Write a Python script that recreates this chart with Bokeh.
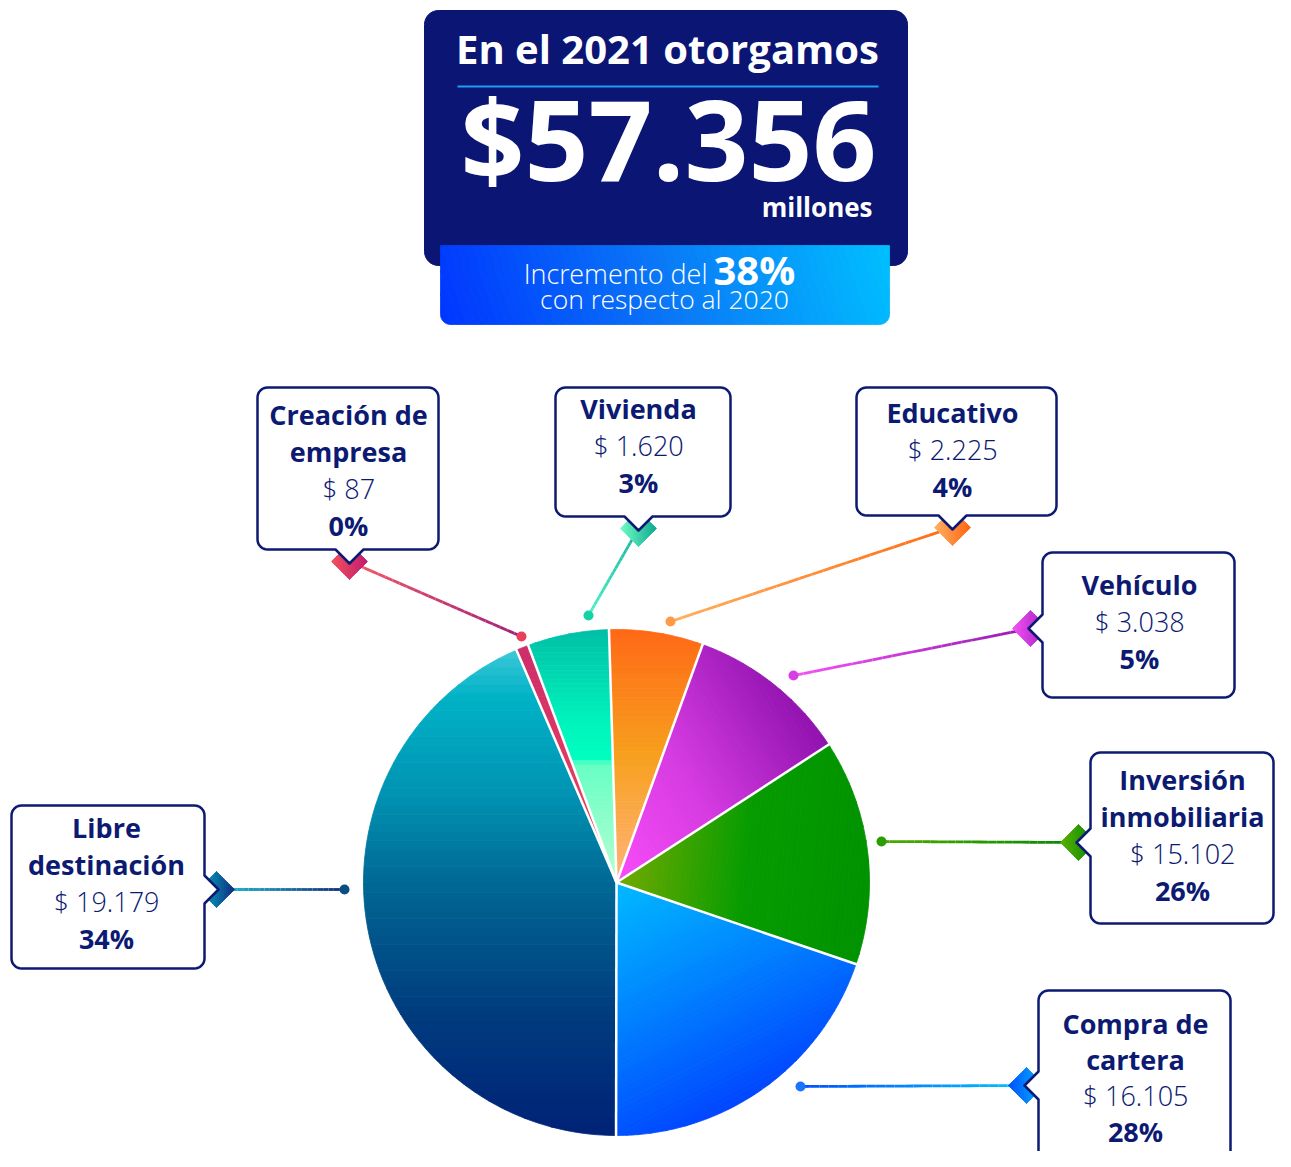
import numpy as np
from bokeh.plotting import figure
from bokeh.models import Range1d
from bokeh.embed import file_html
from bokeh.resources import INLINE
from bokeh.core.properties import value

# ---------------- data ----------------
year = "2021"
prev_year = "2020"
growth_label = "38%"
unit_label = "millones"
categories = ["Educativo", "Vehículo", "Inversión inmobiliaria", "Compra de cartera",
              "Libre destinación", "Creación de empresa", "Vivienda"]
title_lines = [["Educativo"], ["Vehículo"], ["Inversión", "inmobiliaria"],
               ["Compra de", "cartera"], ["Libre", "destinación"],
               ["Creación de", "empresa"], ["Vivienda"]]
amounts = [2225, 3038, 15102, 16105, 19179, 87, 1620]          # millones
percent_labels = ["4%", "5%", "26%", "28%", "34%", "0%", "3%"]
# share of the circle each slice occupies in the drawing (%), clockwise from top
drawn_share = [6.0, 10.3, 14.4, 19.8, 43.5, 0.8, 5.2]
start_angle_deg = -1.7

def fmt_money(v):
    return f"{v:,}".replace(",", ".")

total = sum(amounts)

# ---------------- styles / layout ----------------
NAVY = "#0c1a72"
BOX_NAVY = "#0b1574"
FONT = "Open Sans"
LIGHT = "'Open Sans Light', 'Open Sans'"
BASE_FIX = 0.45          # renderer places 'alphabetic' text lower by ~0.45 em
CX, CY, R = 616.0, 882.0, 253.0

slice_grad = [
    ((0, 1), [(0, "#ff6816"), (0.5, "#f7a01e"), (1, "#ffb47c")]),
    ((1, -0.6), [(0, "#f84cf8"), (0.45, "#d63be2"), (1, "#9012ae")]),
    ((1, 0.1), [(0, "#74aa00"), (0.5, "#069c00"), (1, "#009200")]),
    ((0.5, 1), [(0, "#00baff"), (0.5, "#0082ff"), (1, "#0046ff")]),
    ((0, 1), [(0, "#3cc8d8"), (0.1, "#00b2c6"), (0.3, "#0092b2"), (0.5, "#006492"),
              (0.75, "#003c7e"), (1, "#002277")]),
    ((0, 1), [(0, "#cc2e6c"), (1, "#f44656")]),
    ((0, 1), [(0, "#00bea6"), (0.35, "#00f2bc"), (0.52, "#00ffc0"), (0.53, "#66ffc4"),
              (1, "#b8ffd2")]),
]

callouts = [
    dict(box=(856, 387, 1056, 515), side="bottom", pos=952, dot=(670, 621),
         dia=("#ffb266", "#ff6410"), line=("#ff6a12", "#ffb060"), dotc="#ff9a48",
         tx=952, ty=424, sp=37),
    dict(box=(1042, 552, 1234, 697), side="left", pos=628, dot=(793, 675),
         dia=("#f552f5", "#a01cbe"), line=("#9418b0", "#f552f8"), dotc="#d83ee6",
         tx=1139, ty=596, sp=37),
    dict(box=(1090, 752, 1273, 923), side="left", pos=842, dot=(881, 841),
         dia=("#5cb000", "#008800"), line=("#008a00", "#4caa00"), dotc="#2a9e00",
         tx=1182, ty=791, sp=37),
    dict(box=(1038, 990, 1230, 1210), side="left", pos=1085, dot=(800, 1086),
         dia=("#0050ff", "#00b4ff"), line=("#00c4ff", "#0050ff"), dotc="#1a74ff",
         tx=1135, ty=1035, sp=36),
    dict(box=(11, 805, 204, 968), side="right", pos=889, dot=(344, 889),
         dia=("#00b4c8", "#102e80"), line=("#20c4d4", "#10287a"), dotc="#0a4c84",
         tx=106, ty=839, sp=37),
    dict(box=(257, 387, 438, 549), side="bottom", pos=349, dot=(521, 636),
         dia=("#f5505a", "#c01c70"), line=("#f55a62", "#a0207c"), dotc="#e8405a",
         tx=348, ty=426, sp=37),
    dict(box=(555, 387, 730, 516), side="bottom", pos=638, dot=(588, 615),
         dia=("#70ffc4", "#10a890"), line=("#18b09c", "#48f4c4"), dotc="#14d4a4",
         tx=638, ty=420, sp=37),
]

# ---------------- helpers ----------------
def hex2rgb(h):
    h = h.lstrip("#")
    return np.array([int(h[i:i + 2], 16) for i in (0, 2, 4)], float)

def interp(stops, t):
    for (p0, c0), (p1, c1) in zip(stops[:-1], stops[1:]):
        if t <= p1:
            u = 0.0 if p1 == p0 else (t - p0) / (p1 - p0)
            c = hex2rgb(c0) * (1 - u) + hex2rgb(c1) * u
            return "#%02x%02x%02x" % tuple(int(round(v)) for v in c)
    return stops[-1][1]

def clip_half(poly, d, t, keep_greater):
    out = []
    n = len(poly)
    for i in range(n):
        P = poly[i]
        Q = poly[(i + 1) % n]
        fp = P @ d - t
        fq = Q @ d - t
        if not keep_greater:
            fp, fq = -fp, -fq
        if fp >= 0:
            out.append(P)
        if (fp >= 0) != (fq >= 0):
            s = fp / (fp - fq)
            out.append(P + s * (Q - P))
    return np.array(out) if out else np.zeros((0, 2))

def grad_fill(p, xs, ys, d, stops, n=48):
    P = np.column_stack([xs, ys]).astype(float)
    d = np.array(d, float)
    d /= np.linalg.norm(d)
    proj = P @ d
    t0, t1 = proj.min(), proj.max()
    edges = np.linspace(t0, t1, n + 1)
    XS, YS, C = [], [], []
    for i in range(n):
        poly = clip_half(P, d, edges[i] - 0.05, True)
        if len(poly) < 3:
            continue
        poly = clip_half(poly, d, edges[i + 1] + 0.05, False)
        if len(poly) < 3:
            continue
        XS.append(list(poly[:, 0]))
        YS.append(list(poly[:, 1]))
        C.append(interp(stops, (i + 0.5) / n))
    p.patches(XS, YS, fill_color=C, line_color=C, line_width=0.8)

def grad_line(p, x0, y0, x1, y1, c0, c1, n=24, width=2.8):
    t = np.linspace(0, 1, n + 1)
    xs = [[x0 + (x1 - x0) * t[i], x0 + (x1 - x0) * t[i + 1]] for i in range(n)]
    ys = [[y0 + (y1 - y0) * t[i], y0 + (y1 - y0) * t[i + 1]] for i in range(n)]
    cols = [interp([(0, c0), (1, c1)], (i + 0.5) / n) for i in range(n)]
    p.multi_line(xs, ys, line_color=cols, line_width=width)

def rounded_box(l, t, r, b, rad, side=None, pos=None, w=14, h=14, square_top=False):
    pts = []
    def arc(cx, cy, a0, a1, rr):
        for a in np.linspace(a0, a1, 9):
            pts.append((cx + rr * np.cos(np.radians(a)), cy + rr * np.sin(np.radians(a))))
    if square_top:
        pts.append((l, t))
    else:
        arc(l + rad, t + rad, 180, 270, rad)
    if side == "top":
        pts += [(pos - w, t), (pos, t - h), (pos + w, t)]
    if square_top:
        pts.append((r, t))
    else:
        arc(r - rad, t + rad, 270, 360, rad)
    if side == "right":
        pts += [(r, pos - w), (r + h, pos), (r, pos + w)]
    arc(r - rad, b - rad, 0, 90, rad)
    if side == "bottom":
        pts += [(pos + w, b), (pos, b + h), (pos - w, b)]
    arc(l + rad, b - rad, 90, 180, rad)
    if side == "left":
        pts += [(l, pos + w), (l - h, pos), (l, pos - w)]
    xs, ys = zip(*pts)
    return list(xs), list(ys)

# ---------------- figure ----------------
W, H = 1275, 1151
p = figure(width=W, height=H, x_range=Range1d(0, W), y_range=Range1d(H, 0),
           output_backend="svg", toolbar_location=None, min_border=0,
           outline_line_color=None, background_fill_color="white",
           border_fill_color="white")
p.axis.visible = False
p.grid.visible = False

def txt(x, y, s, size, bold=False, light=False, color=NAVY, align="center"):
    p.text(x=[x], y=[y - BASE_FIX * size], text=[s], text_font=value(LIGHT if light else FONT),
           text_font_style="bold" if bold else "normal", text_font_size=f"{size}px",
           text_color=color, text_align=align, text_baseline="alphabetic")

# ---- header ----
hx, hy = rounded_box(424, 10, 907, 265, 14)
p.patch(hx, hy, fill_color=BOX_NAVY, line_color=BOX_NAVY, line_width=1)
bx, by = rounded_box(440, 245, 889, 324, 10, square_top=True)
grad_fill(p, bx, by, (1, -0.35), [(0, "#0036ff"), (0.5, "#0a78f6"), (1, "#00c0ff")], n=60)
p.line([457, 878], [86, 86], line_color="#1e9ff2", line_width=2)
txt(667, 66, f"En el {year} otorgamos", 40, bold=True, color="white")
txt(668, 187, f"${fmt_money(total)}", 112, bold=True, color="white")
txt(872, 218, unit_label, 26, bold=True, color="white", align="right")
txt(707, 285, "Incremento del", 27, light=True, color="white", align="right")
txt(713, 287, growth_label, 40, bold=True, color="white", align="left")
txt(664, 310, f"con respecto al {prev_year}", 26.5, light=True, color="white")

# ---- pie slices (from drawn_share) ----
shares = np.array(drawn_share, float)
bounds = start_angle_deg + np.concatenate([[0], np.cumsum(shares / shares.sum() * 360.0)])
for i in range(len(categories)):
    a0, a1 = bounds[i], bounds[i + 1]
    m = max(4, int((a1 - a0) / 1.0))
    th = np.radians(np.linspace(a0, a1, m))
    xs = [CX] + list(CX + R * np.sin(th))
    ys = [CY] + list(CY - R * np.cos(th))
    d, stops = slice_grad[i]
    grad_fill(p, xs, ys, d, stops, n=56)

sep_x = [[CX, CX + (R + 2) * np.sin(np.radians(a))] for a in bounds[:-1]]
sep_y = [[CY, CY - (R + 2) * np.cos(np.radians(a))] for a in bounds[:-1]]
p.multi_line(sep_x, sep_y, line_color="white", line_width=2.5)

# ---- callouts ----
OFF, HALF = 12, 18
for i, c in enumerate(callouts):
    l, t, r, b = c["box"]
    if c["side"] == "bottom":
        dcx, dcy = c["pos"], b + OFF
    elif c["side"] == "left":
        dcx, dcy = l - OFF, c["pos"]
    else:
        dcx, dcy = r + OFF, c["pos"]
    dx, dy = c["dot"]
    grad_line(p, dcx, dcy, dx, dy, c["line"][0], c["line"][1])
    p.scatter([dx], [dy], size=10, marker="circle", fill_color=c["dotc"], line_color=None)
    dxs = [dcx - HALF, dcx, dcx + HALF, dcx]
    dys = [dcy, dcy - HALF, dcy, dcy + HALF]
    grad_fill(p, dxs, dys, (1, 0), [(0, c["dia"][0]), (1, c["dia"][1])], n=20)
    ox, oy = rounded_box(l, t, r, b, 10, side=c["side"], pos=c["pos"])
    p.patch(ox, oy, fill_color="white", line_color=NAVY, line_width=2.5, line_join="round")
    yy = c["ty"]
    for line in title_lines[i]:
        txt(c["tx"], yy, line, 27, bold=True)
        yy += c["sp"]
    txt(c["tx"], yy, f"$ {fmt_money(amounts[i])}", 27, light=True)
    yy += c["sp"]
    txt(c["tx"], yy, percent_labels[i], 27, bold=True)

open("out.html", "w").write(file_html(p, INLINE))
